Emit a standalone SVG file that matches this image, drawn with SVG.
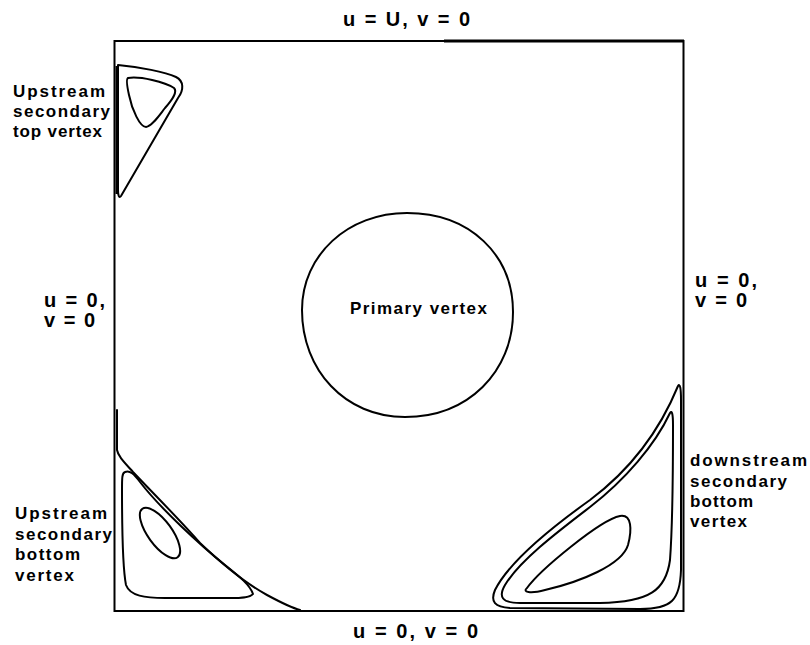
<svg xmlns="http://www.w3.org/2000/svg" width="810" height="645" viewBox="0 0 810 645">
<style>
.lbl{font-family:"Liberation Sans",Arial,sans-serif;font-weight:bold;font-size:17px;fill:#000}
.bnd{font-family:"Liberation Sans",Arial,sans-serif;font-weight:bold;font-size:20px;fill:#000}
.ln{fill:none;stroke:#000;stroke-width:2;stroke-linejoin:round;stroke-linecap:round}
</style>
<rect width="810" height="645" fill="#fff"/>
<g id="cavity">
<rect x="114.5" y="41" width="569" height="570" fill="none" stroke="#000" stroke-width="2"/>
<line x1="444" y1="41" x2="684" y2="41" stroke="#000" stroke-width="3"/>
</g>
<g id="boundary-labels">
<text class="bnd" x="343" y="26" textLength="127" lengthAdjust="spacing">u = U, v = 0</text>
<text class="bnd" x="353" y="638" textLength="125" lengthAdjust="spacing">u = 0, v = 0</text>
<text class="bnd" x="44" y="307" textLength="61" lengthAdjust="spacing">u = 0,</text>
<text class="bnd" x="44" y="327" textLength="51" lengthAdjust="spacing">v = 0</text>
<text class="bnd" x="695" y="287" textLength="62" lengthAdjust="spacing">u = 0,</text>
<text class="bnd" x="695" y="307" textLength="52" lengthAdjust="spacing">v = 0</text>
</g>
<g id="primary-vertex">
<path class="ln" d="M407,213 C470,213 513,255 513,312 C513,372 468,417 405,417 C345,417 302,370 302,310 C302,255 348,213 407,213 Z"/>
<text class="lbl" x="350" y="314" textLength="137" lengthAdjust="spacing">Primary vertex</text>
</g>
<g id="top-left-vertex">
<path class="ln" d="M118,65 C140,67 165,72 176,77 C184,81 184,90 178,98 L121,196 C119,199 118,195 118,190 Z"/>
<line x1="117" y1="66" x2="117" y2="194" stroke="#000" stroke-width="3"/>
<path class="ln" d="M128,78 C140,76 165,82 174,88 C178,92 172,100 165,108 C158,117 152,126 146,127 C140,127 132,110 129,95 C127,86 126,79 128,78 Z"/>
<text class="lbl" x="13" y="97" textLength="92" lengthAdjust="spacing">Upstream</text>
<text class="lbl" x="13" y="117" textLength="97" lengthAdjust="spacing">secondary</text>
<text class="lbl" x="13" y="137" textLength="89" lengthAdjust="spacing">top vertex</text>
</g>
<g id="bottom-left-vertex">
<path class="ln" d="M117,410 L117,450 C118,456 124,462 133,472 C150,490 180,520 200,543 C220,562 245,583 267,595 C280,602 292,608 300,610"/>
<path class="ln" d="M125,472 C130,470 134,474 140,482 C160,508 200,545 225,565 C240,577 250,585 253,594 C250,598 240,598 230,598 L165,598 C145,598 130,596 126,585 C122,565 122,520 122,490 C122,478 122,473 125,472 Z"/>
<ellipse cx="160" cy="533" rx="30" ry="12" transform="rotate(54 160 533)" class="ln"/>
<text class="lbl" x="15" y="519" textLength="92" lengthAdjust="spacing">Upstream</text>
<text class="lbl" x="15" y="540" textLength="97" lengthAdjust="spacing">secondary</text>
<text class="lbl" x="15" y="560" textLength="65" lengthAdjust="spacing">bottom</text>
<text class="lbl" x="15" y="581" textLength="59" lengthAdjust="spacing">vertex</text>
</g>
<g id="bottom-right-vertex">
<path class="ln" d="M678,386 C660,430 630,470 590,500 C555,525 510,560 495,590 C490,602 495,607 510,608 L640,609 C672,609 680,600 681,570 L681,400 C681,388 680,383 678,386 Z"/>
<path class="ln" d="M670,413 C655,445 625,480 590,507 C560,530 520,560 505,585 C498,597 502,603 520,603 L600,603 C650,602 666,590 670,560 C673,520 673,460 673,425 C673,414 672,410 670,413 Z"/>
<path class="ln" d="M527,588 C540,570 600,520 620,516 C632,514 632,530 628,545 C622,565 580,582 545,590 C530,594 522,592 527,588 Z"/>
<text class="lbl" x="690" y="466" textLength="117" lengthAdjust="spacing">downstream</text>
<text class="lbl" x="690" y="487" textLength="97" lengthAdjust="spacing">secondary</text>
<text class="lbl" x="690" y="507" textLength="63" lengthAdjust="spacing">bottom</text>
<text class="lbl" x="690" y="527" textLength="57" lengthAdjust="spacing">vertex</text>
</g>
</svg>
